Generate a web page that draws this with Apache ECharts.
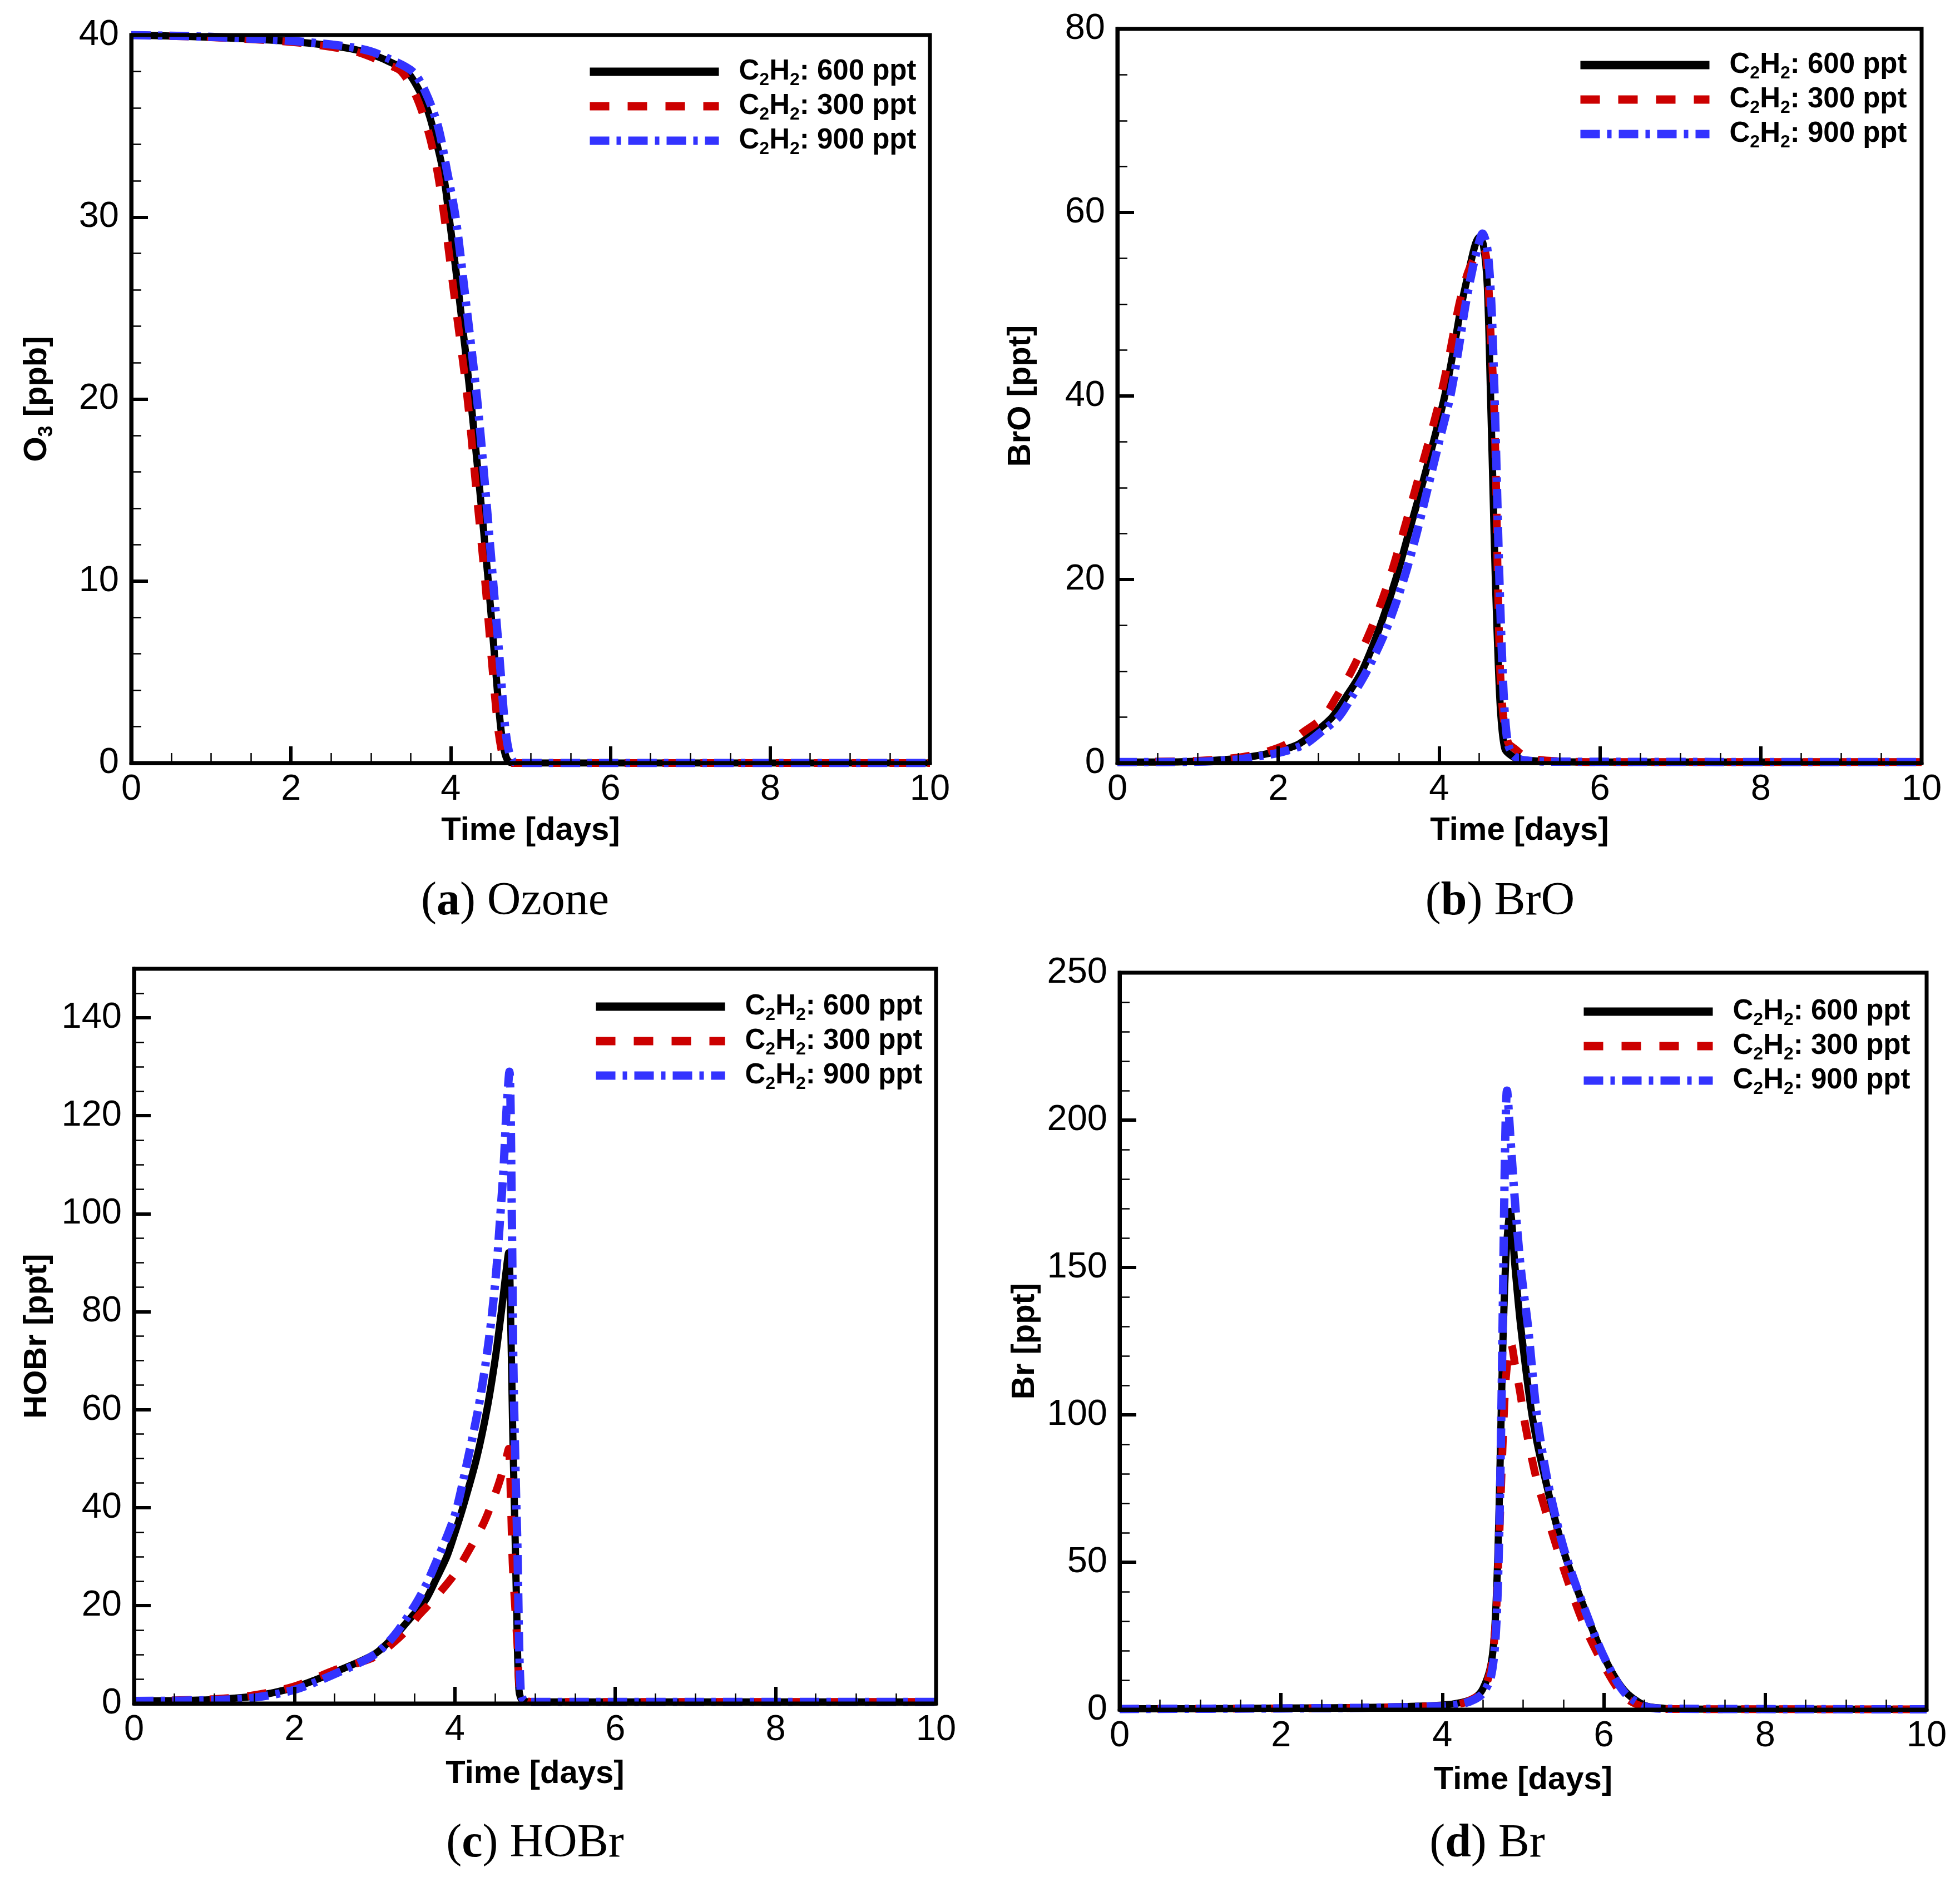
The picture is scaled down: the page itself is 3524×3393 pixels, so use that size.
<!DOCTYPE html>
<html>
<head>
<meta charset="utf-8">
<title>C2H2 sensitivity</title>
<script src="https://cdn.jsdelivr.net/npm/echarts@6/dist/echarts.min.js"></script>
<style>
  html, body { margin: 0; padding: 0; background: #fff; }
  #chart { width: 3524px; height: 3393px; }
</style>
</head>
<body>
<div id="chart"></div>
<script>
// series names and x ticks
const seriesNames = ['C2H2: 600 ppt', 'C2H2: 300 ppt', 'C2H2: 900 ppt'];
const timeTicks = [0, 2, 4, 6, 8, 10];

// (a) ozone [ppb]   [time, value]
const ozone600 = [[0,40],[0.5,39.95],[1,39.88],[1.5,39.78],[2,39.65],[2.5,39.42],[2.8,39.2],[3,38.95],[3.2,38.6],[3.45,38],[3.6,37],[3.7,36],[3.77,35],[3.9,32.6],[3.98,30],[4.1,25.8],[4.25,20],[4.35,15.6],[4.47,10],[4.55,5.8],[4.62,2.2],[4.67,0.7],[4.72,0.1],[4.8,0],[6,0],[8,0],[10,0]];
const ozone300 = [[0,40],[1,39.88],[2,39.62],[2.5,39.35],[2.8,39.1],[3,38.8],[3.2,38.4],[3.38,38],[3.55,36.8],[3.7,35],[3.82,32.8],[3.92,30],[4.05,25.5],[4.21,20],[4.32,15],[4.43,10],[4.51,5.8],[4.59,2],[4.64,0.6],[4.68,0.1],[4.75,0],[6,0],[8,0],[10,0]];
const ozone900 = [[0,40],[1,39.9],[2,39.68],[2.5,39.48],[2.8,39.3],[3,39.1],[3.2,38.75],[3.52,38],[3.68,36.9],[3.84,35],[3.95,32.6],[4.06,30],[4.18,25.7],[4.33,20],[4.43,15.2],[4.53,10],[4.61,5.8],[4.68,2],[4.73,0.6],[4.78,0.1],[4.85,0],[6,0],[8,0],[10,0]];

// (b) BrO [ppt]
const bro600 = [[0,0.1],[0.5,0.1],[1,0.2],[1.5,0.5],[1.8,0.9],[2,1.3],[2.24,2],[2.45,3.3],[2.67,5],[2.85,7.3],[3.04,10],[3.25,14.5],[3.46,20],[3.62,25],[3.78,30],[3.93,35],[4.07,40],[4.18,45],[4.28,50],[4.38,54],[4.45,56.5],[4.5,57.3],[4.55,56.5],[4.6,52],[4.64,40],[4.67,30],[4.7,20],[4.74,10],[4.77,5],[4.82,1.5],[4.9,0.8],[5,0.4],[5.3,0.2],[6,0.1],[10,0.1]];
const bro300 = [[0,0.1],[1,0.25],[1.5,0.6],[1.8,1.1],[2.09,2],[2.3,3.3],[2.56,5],[2.73,7.3],[2.91,10],[3.15,14.5],[3.38,20],[3.55,25],[3.71,30],[3.87,35],[4.02,40],[4.14,45],[4.25,50],[4.36,53.5],[4.47,55.5],[4.55,56.1],[4.6,54],[4.64,47],[4.68,40],[4.71,30],[4.73,20],[4.76,10],[4.8,5],[4.86,2.2],[4.95,1.5],[5.05,0.8],[5.2,0.4],[5.5,0.2],[6,0.1],[10,0.1]];
const bro900 = [[0,0.1],[1,0.15],[1.5,0.4],[1.8,0.8],[2,1.1],[2.32,2],[2.52,3.3],[2.75,5],[2.92,7.3],[3.1,10],[3.34,14.5],[3.56,20],[3.72,25],[3.86,30],[4,35],[4.14,40],[4.24,45],[4.33,50],[4.42,54],[4.49,56.5],[4.54,57.7],[4.6,56],[4.65,50],[4.69,40],[4.72,30],[4.75,20],[4.79,10],[4.82,5],[4.86,2],[4.93,0.8],[5.05,0.3],[5.5,0.15],[10,0.1]];

// (c) HOBr [ppt]
const hobr600 = [[0,0.5],[0.5,0.6],[1,0.8],[1.5,1.5],[2,3.3],[2.5,6.4],[3,10.1],[3.25,13.8],[3.45,17.5],[3.63,21],[3.77,25.5],[3.9,30],[4,34.8],[4.1,40],[4.27,50],[4.4,60],[4.5,70],[4.58,80],[4.63,87],[4.67,92],[4.7,75],[4.72,57],[4.75,35],[4.77,20],[4.8,2.7],[4.85,0.5],[5,0.3],[10,0.3]];
const hobr300 = [[0,0.5],[1,0.9],[1.5,1.7],[2,3.5],[2.5,6.8],[3,9.5],[3.24,12.5],[3.4,15],[3.55,18],[3.75,21.5],[4,26.5],[4.2,32],[4.35,36.5],[4.44,40],[4.55,45],[4.64,50],[4.67,52],[4.7,40],[4.72,28.7],[4.75,20],[4.78,12],[4.82,1.5],[4.9,0.5],[5,0.3],[10,0.3]];
const hobr900 = [[0,0.5],[1,0.7],[1.5,1.2],[2,2.8],[2.5,6],[3,10],[3.25,14],[3.5,20],[3.65,24.5],[3.77,29],[3.9,34],[4.01,39],[4.15,49],[4.29,60],[4.38,69],[4.46,79],[4.52,89],[4.56,98],[4.61,110],[4.64,120],[4.68,129],[4.71,100],[4.73,69],[4.76,45],[4.78,32],[4.82,2.7],[4.87,0.5],[5,0.3],[10,0.3]];

// (d) Br [ppt]
const br600 = [[0,0.3],[1,0.3],[2,0.5],[3,0.7],[3.5,1],[4,1.5],[4.25,2.5],[4.4,4],[4.5,7],[4.6,15],[4.65,28],[4.69,55],[4.72,90],[4.75,125],[4.79,155],[4.84,169],[4.9,150],[4.97,130],[5.11,100],[5.25,81],[5.5,54],[5.75,35],[6,18],[6.25,6.6],[6.5,1.5],[6.75,0.4],[7,0.2],[10,0.1]];
const br300 = [[0,0.2],[2,0.4],[3,0.6],[4,1.3],[4.25,2.2],[4.4,4],[4.5,6],[4.6,14],[4.66,30],[4.7,55],[4.74,85],[4.78,110],[4.82,121],[4.85,124],[4.9,117],[4.96,108],[5.03,96],[5.15,80],[5.25,70],[5.5,48],[5.75,29],[6,15],[6.25,4.5],[6.5,0.8],[6.75,0.2],[10,0.1]];
const br900 = [[0,0.2],[2,0.4],[3,0.6],[4,1.2],[4.25,2],[4.4,3.5],[4.5,5.5],[4.6,11],[4.66,25],[4.7,55],[4.73,100],[4.76,160],[4.78,195],[4.8,210],[4.84,195],[4.9,172],[4.97,150],[5.06,130],[5.17,100],[5.3,78],[5.5,55],[5.75,35],[6,18],[6.25,6],[6.5,1.2],[6.75,0.3],[10,0.1]];

const SANS = '"Liberation Sans", Arial, sans-serif';
const SERIF = '"Liberation Serif", "Times New Roman", serif';

const lineColors = ['#000000', '#cc0000', '#3333ff'];
const lineDashes = ['solid', [35, 33], [35, 13, 8, 13]];
const lineWidths = [13, 14, 15];

// plot rectangles of the four panels (px)
const grids = [
  { left: 236, top: 63, width: 1436, height: 1309 },
  { left: 2009, top: 52, width: 1446, height: 1320 },
  { left: 241, top: 1742, width: 1442, height: 1321 },
  { left: 2013, top: 1749, width: 1451, height: 1325 }
];

const chart = echarts.init(document.getElementById('chart'), null, { renderer: 'canvas' });

function xAxisFor(i, gap) {
  return {
    type: 'value', gridIndex: i, min: 0, max: 10, interval: 2, z: 10,
    name: 'Time [days]', nameLocation: 'middle', nameGap: gap,
    nameTextStyle: { fontFamily: SANS, fontWeight: 'bold', fontSize: 58, color: '#000' },
    axisLine: { show: true, lineStyle: { color: '#000', width: 7 } },
    axisTick: { show: true, inside: true, length: 30, lineStyle: { color: '#000', width: 6 } },
    minorTick: { show: true, splitNumber: 4, length: 18, lineStyle: { color: '#000', width: 2.5 } },
    axisLabel: { fontFamily: SANS, fontSize: 65, color: '#000', margin: 16,
      customValues: timeTicks },
    splitLine: { show: false }
  };
}

function yAxisFor(i, max, interval, minorSplit, name, gap) {
  return {
    type: 'value', gridIndex: i, min: 0, max: max, interval: interval, z: 10,
    position: 'left',
    name: name, nameLocation: 'middle', nameGap: gap, nameRotate: 90,
    nameTextStyle: {
      fontFamily: SANS, fontWeight: 'bold', fontSize: 58, color: '#000', lineHeight: 70,
      rich: { s: { fontFamily: SANS, fontWeight: 'bold', fontSize: 36, lineHeight: 30, verticalAlign: 'bottom', color: '#000' } }
    },
    axisLine: { show: true, lineStyle: { color: '#000', width: 7 } },
    axisTick: { show: true, inside: true, length: 30, lineStyle: { color: '#000', width: 6 } },
    minorTick: { show: minorSplit > 0, splitNumber: minorSplit || 1, length: 18, lineStyle: { color: '#000', width: 2.5 } },
    axisLabel: { fontFamily: SANS, fontSize: 65, color: '#000', margin: 22, showMaxLabel: max % interval === 0 },
    splitLine: { show: false }
  };
}

// panel c: major ticks every 20 up to 140, minor every 5 up to 150
const hobrMinorAxis = {
  type: 'value', gridIndex: 2, min: 0, max: 150, interval: 5, z: 10, position: 'left',
  axisLine: { show: false },
  axisTick: { show: true, inside: true, length: 18, lineStyle: { color: '#000', width: 2.5 } },
  axisLabel: { show: false },
  splitLine: { show: false }
};

function legendFor(left, top) {
  return {
    left: left, top: top, orient: 'vertical', padding: 0, itemGap: 0,
    itemWidth: 232, itemHeight: 15, selectedMode: false,
    lineStyle: { width: 15 },
    itemStyle: { opacity: 0, borderWidth: 0 },   // hide the marker the line legend puts in the middle
    data: seriesNames,
    formatter: function (n) { return n.replace(/2(?=H|:)/g, '{s|2}'); },
    textStyle: {
      fontFamily: SANS, fontWeight: 'bold', fontSize: 51, color: '#000', lineHeight: 62,
      padding: [0, 0, 0, 31],
      rich: { s: { fontFamily: SANS, fontWeight: 'bold', fontSize: 32, lineHeight: 18, verticalAlign: 'bottom', color: '#000' } }
    }
  };
}

const panelData = [
  [ozone600, ozone300, ozone900],
  [bro600, bro300, bro900],
  [hobr600, hobr300, hobr900],
  [br600, br300, br900]
];

const series = [];
panelData.forEach(function (sets, p) {
  sets.forEach(function (d, k) {
    series.push({
      name: seriesNames[k], type: 'line', xAxisIndex: p, yAxisIndex: p,
      data: d, symbol: 'none', showSymbol: false, z: 3 + k,
      smooth: 0.3,
      lineStyle: { color: lineColors[k], width: lineWidths[k], type: lineDashes[k] },
      itemStyle: { color: lineColors[k] }
    });
  });
});

function caption(x, y, letter, word) {
  return {
    type: 'text', x: x, y: y,
    style: {
      text: '({b|' + letter + '}) ' + word,
      fontFamily: SERIF, fontSize: 84, fill: '#000',
      align: 'center', verticalAlign: 'middle',
      rich: { b: { fontFamily: SERIF, fontSize: 84, fontWeight: 'bold', fill: '#000' } }
    }
  };
}

const option = {
  backgroundColor: '#fff',
  animation: false,
  grid: grids.map(function (g) {
    return Object.assign({ show: true, borderColor: '#000', borderWidth: 7, z: 10, backgroundColor: 'transparent' }, g);
  }),
  xAxis: [xAxisFor(0, 93), xAxisFor(1, 93), xAxisFor(2, 98), xAxisFor(3, 98)],
  yAxis: [
    yAxisFor(0, 40, 10, 5, 'O{s|3} [ppb]', 134),
    yAxisFor(1, 80, 20, 4, 'BrO [ppt]', 138),
    yAxisFor(2, 150, 20, 0, 'HOBr [ppt]', 139),
    yAxisFor(3, 250, 50, 5, 'Br [ppt]', 135),
    hobrMinorAxis
  ],
  legend: [
    legendFor(1053, 98),
    legendFor(2834, 86),
    legendFor(1064, 1779),
    legendFor(2840, 1788)
  ],
  graphic: [
    caption(926, 1622, 'a', 'Ozone'),
    caption(2697, 1622, 'b', 'BrO'),
    caption(962, 3316, 'c', 'HOBr'),
    caption(2674, 3316, 'd', 'Br')
  ],
  series: series
};

chart.setOption(option);
</script>
</body>
</html>
